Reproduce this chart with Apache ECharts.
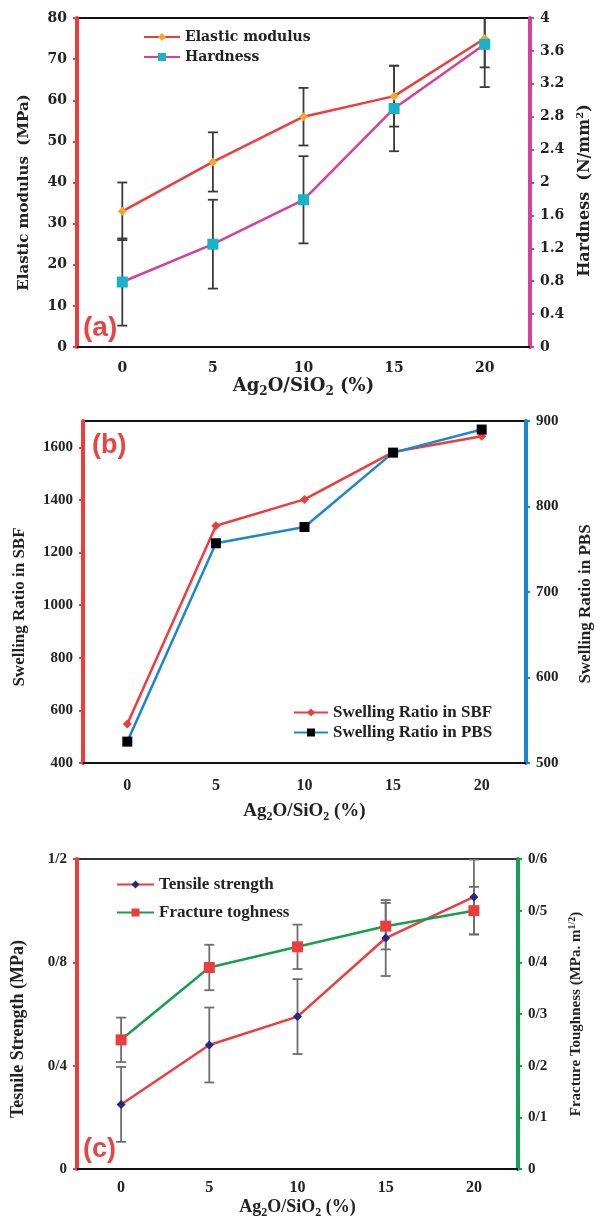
<!DOCTYPE html>
<html><head><meta charset="utf-8">
<script src="https://cdn.jsdelivr.net/npm/echarts@6/dist/echarts.min.js"></script>
<style>html,body{margin:0;padding:0;background:#fff}#c{width:601px;height:1217px}</style>
</head><body><div id="c"></div>
<script>
// ---------- data ----------
const categories = ['0', '5', '10', '15', '20'];
// panel (a)
const elasticModulus = [33, 45, 56, 61, 75];
const elasticErr = [7, 7.2, 7, 7.4, 7];
const hardness = [0.79, 1.25, 1.79, 2.9, 3.68];
const hardnessErr = [0.53, 0.54, 0.53, 0.52, 0.52];
// panel (b)
const swellSBF = [548, 1302, 1402, 1582, 1642];
const swellPBS = [525, 757, 776, 863, 890];
// panel (c)
const tensile = [0.25, 0.48, 0.59, 0.894, 1.053];
const tensileErr = [0.145, 0.145, 0.145, 0.147, 0.145];
const fracture = [0.25, 0.39, 0.43, 0.47, 0.5];
const fractureErr = [0.043, 0.044, 0.043, 0.045, 0.046];

// ---------- styling ----------
const SERIF = '"Liberation Serif", "Times New Roman", serif';
const WIDE = '"DejaVu Serif", serif';
const RED = '#ee3b3b', PINK = '#d6409a', BLUE = '#1a87cf', GREEN = '#16a04e';

function errData(vals, errs) { return vals.map((v, i) => [i, v - errs[i], v + errs[i]]); }
function errSeries(vals, errs, xi, yi, color) {
  return {
    type: 'custom', xAxisIndex: xi, yAxisIndex: yi, clip: true, z: 1, silent: true,
    data: errData(vals, errs), encode: { x: 0, y: [1, 2] },
    renderItem: function (params, api) {
      const i = api.value(0);
      const p1 = api.coord([i, api.value(2)]), p2 = api.coord([i, api.value(1)]);
      const w = 5, st = { stroke: color, lineWidth: 1.8 };
      return { type: 'group', children: [
        { type: 'line', shape: { x1: p1[0], y1: p1[1], x2: p2[0], y2: p2[1] }, style: st },
        { type: 'line', shape: { x1: p1[0] - w, y1: p1[1], x2: p1[0] + w, y2: p1[1] }, style: st },
        { type: 'line', shape: { x1: p2[0] - w, y1: p2[1], x2: p2[0] + w, y2: p2[1] }, style: st }
      ] };
    }
  };
}
function richWith(size, fam) {
  const small = Math.round(size * 0.65);
  return {
    n: { fontFamily: fam, fontWeight: 'bold', fontSize: size, color: '#222' },
    s: { fontFamily: fam, fontWeight: 'bold', fontSize: small, color: '#222', padding: [Math.round(size * 0.6), 0, 0, 0] },
    p: { fontFamily: fam, fontWeight: 'bold', fontSize: small, color: '#222', padding: [0, 0, Math.round(size * 0.6), 0] }
  };
}
function xAx(gi, gap, margin, fam, lsize, tsize) {
  return {
    type: 'category', gridIndex: gi, data: categories, boundaryGap: true,
    axisLine: { lineStyle: { color: '#111', width: 2 } },
    axisTick: { alignWithLabel: false, length: 5, lineStyle: { color: '#111', width: 1.5 } },
    axisLabel: { fontFamily: fam, fontWeight: 'bold', fontSize: lsize, color: '#222', margin: margin },
    name: '{n|Ag}{s|2}{n|O/SiO}{s|2}{n| (%)}', nameLocation: 'middle', nameGap: gap,
    nameTextStyle: { rich: richWith(tsize, fam) }
  };
}
function yAx(o) {
  return {
    type: 'value', gridIndex: o.gi, position: o.pos, min: o.min, max: o.max, interval: o.interval,
    splitLine: { show: false },
    axisLine: { show: true, lineStyle: { color: o.color, width: 4 } },
    axisTick: { show: true, length: 4, lineStyle: { color: o.color, width: 2 } },
    axisLabel: { fontFamily: o.fam, fontWeight: 'bold', fontSize: o.lsize, color: '#222', margin: 10,
      showMaxLabel: o.showMax !== false,
      formatter: o.fmt || (v => String(+v.toFixed(2))) },
    name: o.name, nameLocation: 'middle', nameRotate: 90, nameGap: o.gap,
    nameTextStyle: { rich: richWith(o.nsize, o.fam), padding: o.pad || 0 }
  };
}
const slashFmt = v => String(+v.toFixed(2)).replace('.', '/');

const option = {
  animation: false,
  backgroundColor: '#fff',
  grid: [
    { left: 77, top: 18, width: 453, height: 329, show: true, borderColor: '#111', borderWidth: 2, containLabel: false, outerBoundsMode: 'none' },
    { left: 83, top: 421, width: 443, height: 342, show: true, borderColor: '#111', borderWidth: 2, containLabel: false, outerBoundsMode: 'none' },
    { left: 77, top: 859, width: 441, height: 310, show: true, borderColor: '#333', borderWidth: 2, containLabel: false, outerBoundsMode: 'none' }
  ],
  xAxis: [
    xAx(0, 28, 14, WIDE, 14, 18),
    xAx(1, 37, 15, SERIF, 16, 19),
    xAx(2, 27, 11, SERIF, 16, 18)
  ],
  yAxis: [
    yAx({ gi: 0, pos: 'left', min: 0, max: 80, interval: 10, color: RED, fam: WIDE, lsize: 14,
      name: '{n|Elastic modulus  (MPa)}', gap: 45, nsize: 15, pad: [0, 20, 0, 0] }),
    yAx({ gi: 0, pos: 'right', min: 0, max: 4, interval: 0.4, color: PINK, fam: WIDE, lsize: 14,
      name: '{n|Hardness  (N/mm}{p|2}{n|)}', gap: 44, nsize: 16, pad: [0, 16, 0, 0] }),
    yAx({ gi: 1, pos: 'left', min: 400, max: 1700, interval: 200, color: RED, fam: SERIF, lsize: 15, showMax: false,
      name: '{n|Swelling Ratio in SBF}', gap: 55, nsize: 17, pad: [0, 30, 0, 0] }),
    yAx({ gi: 1, pos: 'right', min: 500, max: 900, interval: 100, color: BLUE, fam: SERIF, lsize: 15,
      name: '{n|Swelling Ratio in PBS}', gap: 51, nsize: 17, pad: [0, 24, 0, 0] }),
    yAx({ gi: 2, pos: 'left', min: 0, max: 1.2, interval: 0.4, color: RED, fam: SERIF, lsize: 15, fmt: slashFmt,
      name: '{n|Tesnile Strength (MPa)}', gap: 50, nsize: 18, pad: [0, 30, 0, 0] }),
    yAx({ gi: 2, pos: 'right', min: 0, max: 0.6, interval: 0.1, color: GREEN, fam: SERIF, lsize: 15, fmt: slashFmt,
      name: '{n|Fracture Toughness (MPa. m}{p|1/2}{n|)}', gap: 49, nsize: 15 })
  ],
  legend: [
    { data: ['Elastic modulus', 'Hardness'], orient: 'vertical', left: 138, top: 25, itemWidth: 36, itemHeight: 10, itemGap: 6,
      textStyle: { fontFamily: WIDE, fontWeight: 'bold', fontSize: 14, color: '#222' } },
    { data: ['Swelling Ratio in SBF', 'Swelling Ratio in PBS'], orient: 'vertical', left: 288, top: 699, itemWidth: 34, itemHeight: 10, itemGap: 3,
      textStyle: { fontFamily: SERIF, fontWeight: 'bold', fontSize: 17, color: '#222' } },
    { data: ['Tensile strength', 'Fracture toghness'], orient: 'vertical', left: 111, top: 871, itemWidth: 37, itemHeight: 10, itemGap: 11,
      textStyle: { fontFamily: SERIF, fontWeight: 'bold', fontSize: 17, color: '#222' } }
  ],
  graphic: [
    { type: 'text', left: 83, top: 314, style: { text: '(a)', font: 'bold 28px "Liberation Sans", Arial, sans-serif', fill: '#e84444' } },
    { type: 'text', left: 92, top: 432, style: { text: '(b)', font: 'bold 27px "Liberation Sans", Arial, sans-serif', fill: '#e84444' } },
    { type: 'text', left: 83, top: 1136, style: { text: '(c)', font: 'bold 27px "Liberation Sans", Arial, sans-serif', fill: '#e84444' } }
  ],
  series: [
    errSeries(elasticModulus, elasticErr, 0, 0, '#3a3a3a'),
    errSeries(hardness, hardnessErr, 0, 1, '#3a3a3a'),
    { name: 'Elastic modulus', type: 'line', xAxisIndex: 0, yAxisIndex: 0, data: elasticModulus, z: 3,
      symbol: 'diamond', symbolSize: 9, lineStyle: { color: RED, width: 2.5 }, itemStyle: { color: '#f5a623' } },
    { name: 'Hardness', type: 'line', xAxisIndex: 0, yAxisIndex: 1, data: hardness, z: 3,
      symbol: 'rect', symbolSize: 11, lineStyle: { color: PINK, width: 2.5 }, itemStyle: { color: '#17b3c9' } },

    { name: 'Swelling Ratio in SBF', type: 'line', xAxisIndex: 1, yAxisIndex: 2, data: swellSBF, z: 3,
      symbol: 'diamond', symbolSize: 9, lineStyle: { color: RED, width: 2.5 }, itemStyle: { color: RED } },
    { name: 'Swelling Ratio in PBS', type: 'line', xAxisIndex: 1, yAxisIndex: 3, data: swellPBS, z: 3,
      symbol: 'rect', symbolSize: 10, lineStyle: { color: BLUE, width: 2.5 }, itemStyle: { color: '#000' } },

    errSeries(tensile, tensileErr, 2, 4, '#6e6e6e'),
    errSeries(fracture, fractureErr, 2, 5, '#6e6e6e'),
    { name: 'Tensile strength', type: 'line', xAxisIndex: 2, yAxisIndex: 4, data: tensile, z: 3,
      symbol: 'diamond', symbolSize: 9, lineStyle: { color: RED, width: 2.5 }, itemStyle: { color: '#26268a' } },
    { name: 'Fracture toghness', type: 'line', xAxisIndex: 2, yAxisIndex: 5, data: fracture, z: 3,
      symbol: 'rect', symbolSize: 11, lineStyle: { color: GREEN, width: 2.5 }, itemStyle: { color: RED } }
  ]
};
const chart = echarts.init(document.getElementById('c'), null, { renderer: 'canvas' });
chart.setOption(option);
</script></body></html>
